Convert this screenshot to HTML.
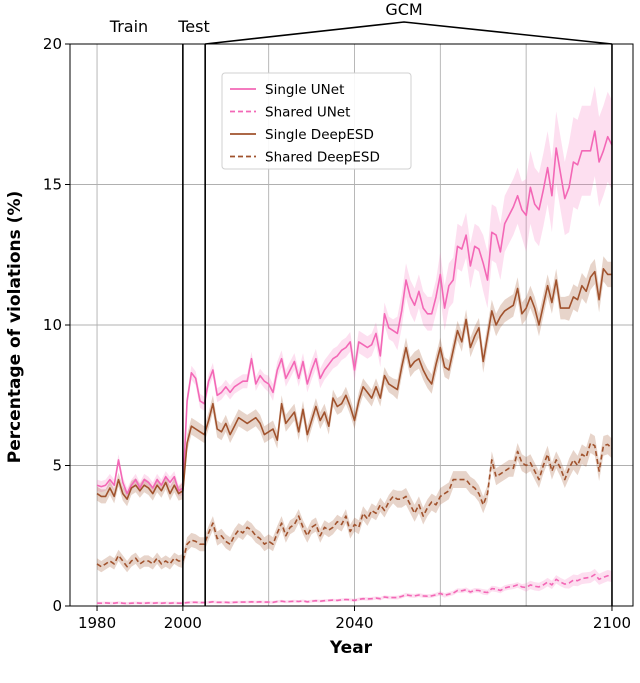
<!DOCTYPE html>
<html><head><meta charset="utf-8">
<style>
html,body{margin:0;padding:0;background:#fff;}
svg{display:block;font-family:"DejaVu Sans","Liberation Sans",sans-serif;}
</style></head>
<body>
<svg id="chart" width="640" height="683" viewBox="0 0 640 683" xmlns="http://www.w3.org/2000/svg">
  <g id="grid"></g>
  <g id="bands"></g>
  <g id="lines"></g>
  <g id="frame"></g>
  <g id="ticks"></g>
</svg>
<script>
const years = [];
for (let y = 1980; y <= 2100; y++) years.push(y);
const singleUNet = [
4.3,4.25,4.3,4.5,4.3,5.2,4.4,4.0,4.3,4.5,
4.2,4.5,4.4,4.2,4.5,4.3,4.6,4.4,4.6,4.1,
4.2,7.3,8.3,8.1,7.3,7.2,8.0,8.4,7.5,7.6,
7.8,7.6,7.8,7.9,8.0,8.0,8.8,7.9,8.2,8.0,
7.9,7.6,8.4,8.8,8.1,8.4,8.7,8.1,8.7,7.9,
8.4,8.8,8.1,8.4,8.6,8.8,8.9,9.1,9.2,9.4,
8.4,9.4,9.3,9.2,9.3,9.7,8.9,10.4,9.9,9.8,
9.7,10.5,11.6,11.0,10.7,11.2,10.6,10.4,10.4,11.0,
11.8,10.6,11.4,11.6,12.8,12.7,13.2,12.1,12.8,12.7,
12.2,11.6,13.3,13.2,12.6,13.6,13.9,14.2,14.6,14.1,
13.9,14.9,14.3,14.1,14.8,15.6,14.6,16.3,15.4,14.5,
14.9,15.8,15.7,16.2,16.2,16.2,16.9,15.8,16.2,16.7,
16.4];
const singleDeepESD = [
4.0,3.9,3.9,4.2,3.9,4.5,4.0,3.8,4.2,4.3,
4.1,4.3,4.2,4.0,4.3,4.1,4.4,4.0,4.3,4.0,
4.1,5.8,6.4,6.3,6.2,6.1,6.6,7.2,6.3,6.2,
6.5,6.1,6.4,6.7,6.6,6.5,6.6,6.7,6.5,6.1,
6.2,6.3,5.9,7.2,6.5,6.7,6.9,6.2,7.0,6.1,
6.6,7.1,6.6,6.9,6.4,7.4,7.1,7.2,7.5,7.1,
6.6,7.3,7.8,7.6,7.4,7.8,7.4,8.2,7.9,7.8,
7.7,8.5,9.2,8.5,8.7,8.8,8.4,8.1,7.9,8.6,
9.2,8.5,8.4,9.1,9.8,9.4,10.2,9.2,9.6,9.9,
8.7,9.6,10.5,10.0,10.3,10.5,10.6,10.7,11.3,10.4,
10.6,11.0,10.6,10.0,10.7,11.4,10.8,11.6,10.6,10.6,
10.6,11.0,10.9,11.4,11.2,11.7,11.9,10.9,12.0,11.8,
11.8];
const sharedDeepESD = [
1.5,1.4,1.5,1.6,1.5,1.8,1.6,1.4,1.6,1.7,
1.5,1.6,1.6,1.5,1.7,1.5,1.6,1.5,1.7,1.6,
1.6,2.2,2.35,2.3,2.2,2.2,2.6,2.95,2.4,2.5,
2.3,2.2,2.5,2.7,2.6,2.8,2.7,2.5,2.4,2.2,
2.3,2.2,2.6,2.95,2.5,2.8,2.9,3.2,2.8,2.5,
2.8,2.9,2.5,2.8,2.7,2.8,3.0,2.9,3.2,2.65,
2.9,2.8,3.3,3.1,3.4,3.3,3.6,3.4,3.7,3.9,
3.8,3.8,3.9,3.6,3.3,3.6,3.2,3.5,3.7,3.6,
3.9,4.0,4.1,4.5,4.5,4.5,4.5,4.3,4.2,4.0,
3.6,4.0,5.2,4.6,4.7,4.8,4.9,4.9,5.5,5.1,
5.0,5.1,4.8,4.5,5.0,5.4,4.8,5.2,4.9,4.5,
4.9,5.2,5.0,5.4,5.3,5.8,5.7,4.8,5.7,5.75,
5.6];
const sharedUNet = [
0.10,0.10,0.11,0.10,0.10,0.12,0.10,0.09,0.10,0.11,
0.10,0.10,0.11,0.10,0.11,0.10,0.11,0.10,0.11,0.10,
0.10,0.12,0.13,0.13,0.12,0.12,0.13,0.15,0.13,0.13,
0.13,0.12,0.13,0.14,0.14,0.14,0.15,0.14,0.15,0.14,
0.14,0.13,0.16,0.17,0.15,0.16,0.17,0.16,0.18,0.15,
0.17,0.19,0.17,0.19,0.20,0.21,0.20,0.22,0.23,0.22,
0.20,0.24,0.26,0.25,0.26,0.28,0.26,0.32,0.30,0.30,
0.30,0.34,0.40,0.37,0.36,0.39,0.36,0.35,0.36,0.40,
0.45,0.38,0.42,0.46,0.55,0.54,0.58,0.50,0.56,0.55,
0.50,0.48,0.62,0.60,0.55,0.64,0.68,0.70,0.75,0.68,
0.66,0.75,0.70,0.68,0.75,0.85,0.75,0.95,0.85,0.78,
0.82,0.92,0.90,0.98,1.00,1.02,1.12,0.95,1.02,1.08,
1.05];
// band half-widths per decade (1980..2100)
const singleUNetBand = [0.2,0.2,0.25,0.25,0.3,0.35,0.4,0.6,0.8,1.0,1.3,1.6,1.6];
const singleDeepESDBand = [0.25,0.25,0.3,0.3,0.3,0.3,0.3,0.35,0.35,0.4,0.4,0.45,0.45];
const sharedDeepESDBand = [0.2,0.2,0.25,0.25,0.25,0.25,0.25,0.3,0.3,0.3,0.3,0.35,0.35];
const sharedUNetBand = [0.05,0.05,0.05,0.05,0.05,0.05,0.06,0.07,0.08,0.1,0.15,0.2,0.2];
const xTicks = [1980, 2000, 2040, 2100];
const xGrid = [1980, 2000, 2020, 2040, 2060, 2080, 2100];
const yTicks = [0, 5, 10, 15, 20];
const seriesNames = ["Single UNet", "Shared UNet", "Single DeepESD", "Shared DeepESD"];

const NS = "http://www.w3.org/2000/svg";
const L = 70, R = 633, T = 44, B = 606;
const X0 = 1973.7, X1 = 2104.9;
function xs(v){ return L + (v - X0) / (X1 - X0) * (R - L); }
function ys(v){ return B - v / 20 * (B - T); }
function mk(tag, attrs, parent){ const e = document.createElementNS(NS, tag); for (const k in attrs) e.setAttribute(k, attrs[k]); parent.appendChild(e); return e; }

const grid = document.getElementById('grid');
xGrid.forEach(v => {
  const l = mk('line', {x1: xs(v), x2: xs(v), y1: T, y2: B, stroke: '#b0b0b0', 'stroke-width': 0.9}, grid);
  
  
});
yTicks.forEach(v => {
  const l = mk('line', {x1: L, x2: R, y1: ys(v), y2: ys(v), stroke: '#b0b0b0', 'stroke-width': 0.9}, grid);
  
  
});

const specs = [
  {v: singleUNet, b: singleUNetBand, c: '#f368b6', fill: 'rgba(245,110,185,0.22)', dash: null, name: 'single-unet'},
  {v: sharedUNet, b: sharedUNetBand, c: '#f368b6', fill: 'rgba(245,110,185,0.22)', dash: '5,3', name: 'shared-unet'},
  {v: singleDeepESD, b: singleDeepESDBand, c: '#a0522d', fill: 'rgba(160,82,45,0.25)', dash: null, name: 'single-deepesd'},
  {v: sharedDeepESD, b: sharedDeepESDBand, c: '#a0522d', fill: 'rgba(160,82,45,0.25)', dash: '5,3', name: 'shared-deepesd'}
];
const bands = document.getElementById('bands');
const lines = document.getElementById('lines');
specs.forEach(s => {
  const hw = i => s.b[Math.min(s.b.length - 1, Math.floor((years[i] - 1980) / 10))];
  let up = [], lo = [];
  years.forEach((y, i) => { up.push(xs(y).toFixed(1) + ',' + ys(s.v[i] + hw(i)).toFixed(1)); lo.push(xs(y).toFixed(1) + ',' + ys(Math.max(0, s.v[i] - hw(i))).toFixed(1)); });
  const poly = mk('polygon', {points: up.concat(lo.reverse()).join(' '), fill: s.fill, stroke: 'none'}, bands);
  
  
  const pts = years.map((y, i) => xs(y).toFixed(1) + ',' + ys(s.v[i]).toFixed(1)).join(' ');
  const pl = mk('polyline', {points: pts, fill: 'none', stroke: s.c, 'stroke-width': 1.6, 'stroke-linejoin': 'round'}, lines);
  if (s.dash) pl.setAttribute('stroke-dasharray', s.dash);
  
  
});

const frame = document.getElementById('frame');
const box = mk('rect', {x: L, y: T, width: R - L, height: B - T, fill: 'none', stroke: '#000', 'stroke-width': 1}, frame);


[2000, 2005.2, 2100].forEach(v => {
  const l = mk('line', {x1: xs(v), x2: xs(v), y1: T, y2: B, stroke: '#000', 'stroke-width': 1.6}, frame);
  
  
});
const br = mk('polyline', {points: xs(2005.2) + ',' + T + ' 404,22 ' + xs(2100) + ',' + T, fill: 'none', stroke: '#000', 'stroke-width': 1.6}, frame);


[['Train', 129, 32, 'train-label'], ['Test', 194, 32, 'test-label'], ['GCM', 404, 15, 'gcm-label']].forEach(t => {
  const e = mk('text', {x: t[1], y: t[2], 'text-anchor': 'middle', 'font-size': 16}, frame);
  e.textContent = t[0];
  
  
});

const ticks = document.getElementById('ticks');
xTicks.forEach(v => {
  mk('line', {x1: xs(v), x2: xs(v), y1: B, y2: B + 5, stroke: '#000'}, ticks);
  const e = mk('text', {x: xs(v), y: B + 22, 'text-anchor': 'middle', 'font-size': 15}, ticks);
  e.textContent = v;
  
  
});
yTicks.forEach(v => {
  mk('line', {x1: L - 5, x2: L, y1: ys(v), y2: ys(v), stroke: '#000'}, ticks);
  const e = mk('text', {x: L - 8, y: ys(v) + 5, 'text-anchor': 'end', 'font-size': 15}, ticks);
  e.textContent = v;
  
  
});
const xt = mk('text', {x: 351, y: 653, 'text-anchor': 'middle', 'font-size': 17, 'font-weight': 'bold'}, ticks);
xt.textContent = 'Year';


const yt = mk('text', {x: 0, y: 0, 'text-anchor': 'middle', 'font-size': 17, 'font-weight': 'bold', transform: 'translate(20,327) rotate(-90)'}, ticks);
yt.textContent = 'Percentage of violations (%)';



// legend
const lg = mk('g', {}, ticks);


mk('rect', {x: 222, y: 73, width: 189, height: 96, rx: 3, fill: 'rgba(255,255,255,0.9)', stroke: '#d0d0d0'}, lg);
specs.forEach((s, i) => {
  const yy = 89 + i * 22.5;
  const ln = mk('line', {x1: 230, x2: 256, y1: yy, y2: yy, stroke: s.c, 'stroke-width': 1.8}, lg);
  if (s.dash) ln.setAttribute('stroke-dasharray', s.dash);
  
  
  const t = mk('text', {x: 265, y: yy + 5, 'font-size': 13.5}, lg);
  t.textContent = seriesNames[i];
  
  
});
</script>
</body></html>
